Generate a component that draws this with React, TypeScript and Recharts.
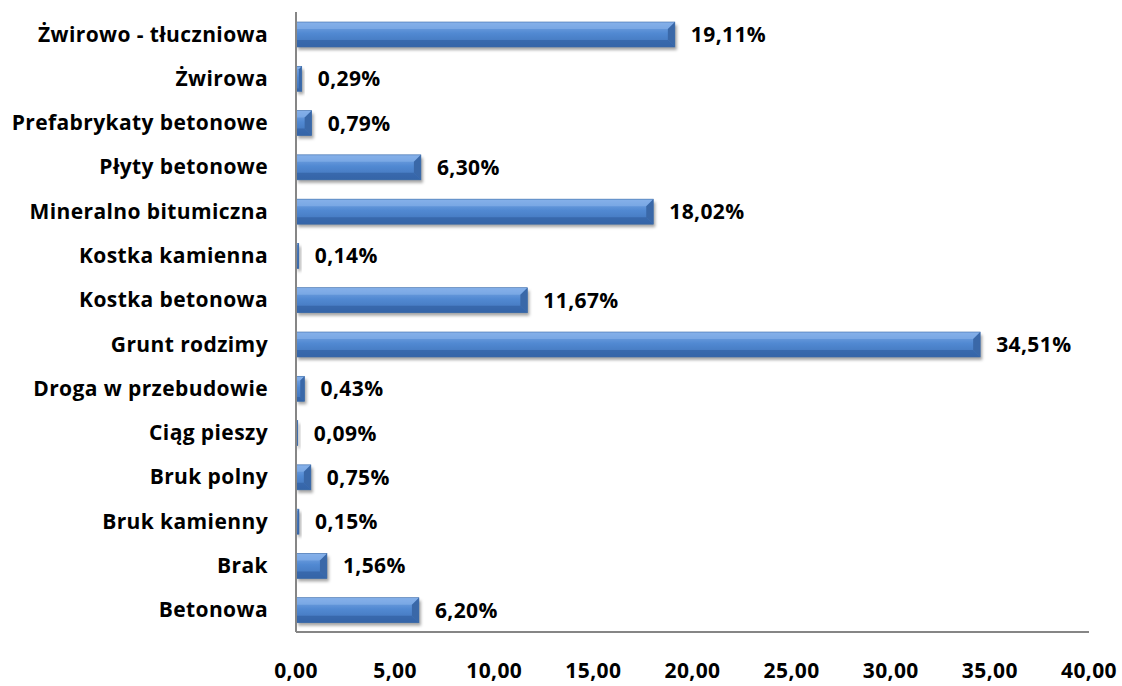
import React from 'react'
import { BarChart, Bar, XAxis, YAxis, LabelList } from 'recharts'

// top to bottom, as in the reference
const categories = [
  'Żwirowo - tłuczniowa',
  'Żwirowa',
  'Prefabrykaty betonowe',
  'Płyty betonowe',
  'Mineralno bitumiczna',
  'Kostka kamienna',
  'Kostka betonowa',
  'Grunt rodzimy',
  'Droga w przebudowie',
  'Ciąg pieszy',
  'Bruk polny',
  'Bruk kamienny',
  'Brak',
  'Betonowa',
]
const shares = [19.11, 0.29, 0.79, 6.3, 18.02, 0.14, 11.67, 34.51, 0.43, 0.09, 0.75, 0.15, 1.56, 6.2]
const xTicks = [0, 5, 10, 15, 20, 25, 30, 35, 40]

const data = categories.map((name, i) => ({ name, value: shares[i] }))

const FONT = '"Open Sans", sans-serif'
const textStyle = { fill: '#000', fontFamily: FONT, fontWeight: 700, fontSize: 21, letterSpacing: 0.4 }
const pl = (v: number) => v.toFixed(2).replace('.', ',')

// bevelled bar, a rough take on Excel's 3D format
const BevelBar = (props: any) => {
  const { x, y, width, height } = props
  if (!width || width <= 0) return null
  const b = Math.min(7, height / 3, width / 2)
  const r = x + width
  const bot = y + height
  return (
    <g>
      <defs>
        <linearGradient id="barFace" x1="0" y1="0" x2="0" y2="1">
          <stop offset="0%" stopColor="#7eaae6" />
          <stop offset="45%" stopColor="#5189d2" />
          <stop offset="100%" stopColor="#3f72b8" />
        </linearGradient>
        <filter id="barShadow" x="-10%" y="-30%" width="130%" height="180%">
          <feGaussianBlur stdDeviation="1.8" />
        </filter>
      </defs>
      <rect x={x + 2} y={y + 3} width={width} height={height} fill="rgba(0,0,0,0.35)" filter="url(#barShadow)" />
      <rect x={x} y={y} width={width} height={height} fill="url(#barFace)" />
      <polygon points={`${x},${y} ${r},${y} ${r - b},${y + b} ${x},${y + b}`} fill="#8cb6ec" opacity={0.55} />
      <polygon points={`${x},${bot - b} ${r - b},${bot - b} ${r},${bot} ${x},${bot}`} fill="#2f5c9c" opacity={0.6} />
      <polygon points={`${r - b},${y + b} ${r},${y} ${r},${bot} ${r - b},${bot - b}`} fill="#3a68a8" />
      <rect x={x} y={y} width={width} height={height} fill="none" stroke="#3a6aa8" strokeWidth={0.6} />
    </g>
  )
}

export default function App() {
  return (
    <div style={{ position: 'absolute', left: 0, top: 0, width: 1122, height: 686, background: '#fff' }}>
      <BarChart
        width={1122}
        height={686}
        data={data}
        layout="vertical"
        margin={{ top: 12, right: 33, bottom: 0, left: 0 }}
        barSize={25}
      >
        <XAxis
          type="number"
          domain={[0, 40]}
          ticks={xTicks}
          tickFormatter={pl}
          axisLine={{ stroke: '#868686', strokeWidth: 2 }}
          tickLine={false}
          tickMargin={25}
          height={54}
          interval={0}
          tick={textStyle}
        />
        <YAxis
          type="category"
          dataKey="name"
          width={296}
          axisLine={{ stroke: '#868686', strokeWidth: 2 }}
          tickLine={false}
          tickMargin={22}
          interval={0}
          tick={textStyle}
        />
        <Bar dataKey="value" shape={<BevelBar />} isAnimationActive={false}>
          <LabelList
            dataKey="value"
            position="right"
            offset={16}
            formatter={(v: any) => `${pl(Number(v))}%`}
            style={textStyle}
          />
        </Bar>
      </BarChart>
    </div>
  )
}
